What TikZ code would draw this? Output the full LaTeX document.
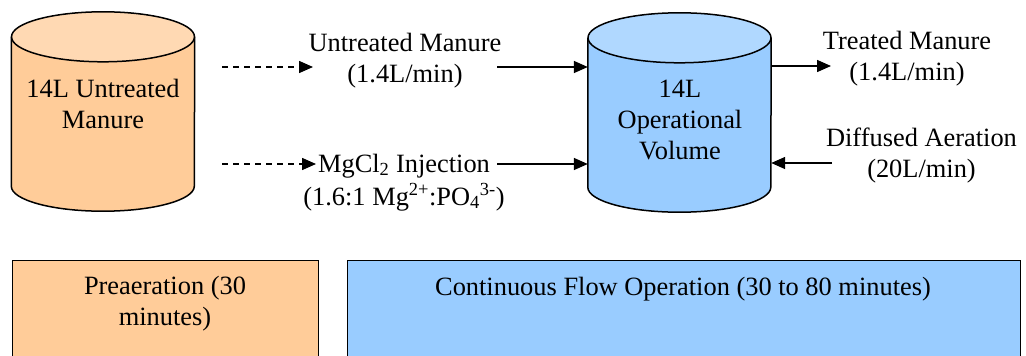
\documentclass[tikz,border=0pt]{standalone}
\usepackage{fontspec}
\setmainfont{Liberation Serif}
\usetikzlibrary{arrows.meta}
\definecolor{orgbody}{HTML}{FFCC99}
\definecolor{orgtop}{HTML}{FFD9B3}
\definecolor{blubody}{HTML}{99CCFF}
\definecolor{blutop}{HTML}{B0D8FF}
\newcommand{\drawcylinder}[3]{%
  % #1 node name (frame of the straight part), #2 body colour, #3 top colour
  \fill[#2] (#1.north west) -- (#1.south west)
    arc[start angle=180,end angle=360,x radius=91.5pt,y radius=25pt]
    -- (#1.north east) -- cycle;
  \fill[#3] (#1.north) ellipse[x radius=91.5pt,y radius=25pt];
  \draw[cylline] (#1.north) ellipse[x radius=91.5pt,y radius=25pt];
  \draw[cylline] (#1.north west) -- (#1.south west)
    arc[start angle=180,end angle=360,x radius=91.5pt,y radius=25pt]
    -- (#1.north east);
}
\begin{document}
\begin{tikzpicture}[x=1pt,y=-1pt,
  every node/.style={font=\fontsize{26.4}{31}\selectfont},
  lbl/.style={align=center,inner sep=0pt,anchor=base},
  cylline/.style={line width=1.5pt,black},
  flow/.style={line width=1.5pt,-{Triangle[length=14pt,width=12pt]}},
  dflow/.style={flow,dash pattern=on 6pt off 5pt},
  phase/.style={draw=black,line width=1.2pt,anchor=north west,inner sep=0pt}]
\useasboundingbox (0,0) rectangle (1026,356);
% cylinders (invisible frames: x-extent and the straight part of the body)
\node[inner sep=0pt,minimum width=183pt,minimum height=149pt] (tank) at (103,111.5) {};
\node[inner sep=0pt,minimum width=183pt,minimum height=149pt] (reactor) at (679.5,112.5) {};
\drawcylinder{tank}{orgbody}{orgtop}
\drawcylinder{reactor}{blubody}{blutop}
% texts (anchor = baseline of the last line)
\node[lbl] (tanktxt) at (103,128) {14L Untreated\\Manure};
\node[lbl] (reactortxt) at (680,159) {14L\\Operational\\Volume};
\node[lbl] (untr) at (405,82) {Untreated Manure\\(1.4L/min)};
\node[lbl] (mg) at (404,205) {MgCl\textsubscript{2} Injection\\[2pt](1.6:1 Mg\textsuperscript{2+}:PO\textsubscript{4}\textsuperscript{3-})};
\node[lbl] (treat) at (907,80) {Treated Manure\\(1.4L/min)};
\node[lbl] (air) at (921.5,177) {Diffused Aeration\\(20L/min)};
% connector end points
\coordinate (d1s) at (222,67);
\coordinate (d1e) at (313,67);
\coordinate (d2s) at (222,164);
\coordinate (d2e) at (316,164);
\coordinate (s1s) at (497,67);
\coordinate (s2s) at (497,164);
\coordinate (outE) at (831,66);
\coordinate (airS) at (832,163);
% connectors
\draw[dflow] (d1s) -- (d1e);
\draw[dflow] (d2s) -- (d2e);
\draw[flow] (s1s) -- (reactor.west |- s1s);
\draw[flow] (s2s) -- (reactor.west |- s2s);
\draw[flow] (reactor.east |- outE) -- (outE);
\draw[flow] (airS) -- (reactor.east |- airS);
% phase boxes
\node[phase,fill=orgbody,minimum width=306pt,minimum height=110pt] (pre) at (12,260) {};
\node[phase,fill=blubody,minimum width=673pt,minimum height=110pt] (cont) at (347,260) {};
\node[lbl] (pretxt) at (165,325) {Preaeration (30\\minutes)};
\node[lbl] (conttxt) at (683,295) {Continuous Flow Operation (30 to 80 minutes)};
\end{tikzpicture}
\end{document}
